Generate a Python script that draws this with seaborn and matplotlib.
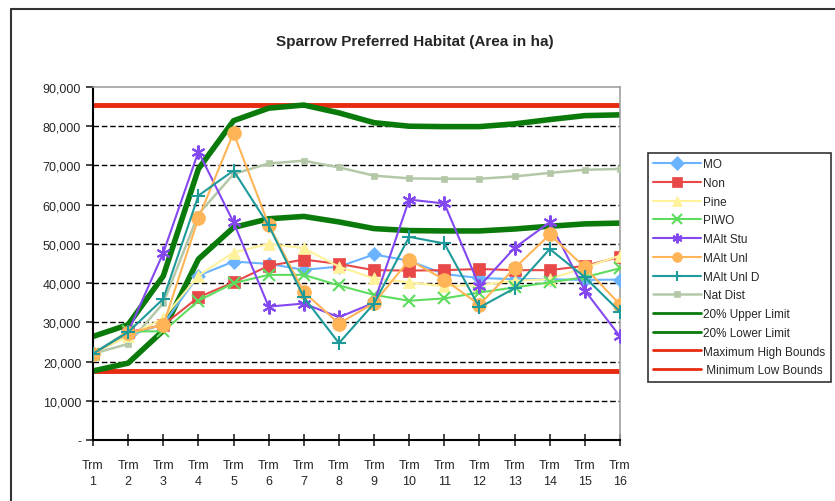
import numpy as np
import pandas as pd
import matplotlib
matplotlib.use("Agg")
import matplotlib.pyplot as plt
from matplotlib.lines import Line2D
import seaborn as sns

sns.set_style("white")
plt.rcParams['font.family'] = ['Liberation Sans', 'DejaVu Sans']

# treatments
terms = list(range(1, 17))
tick_labels = ["Trm\n%d" % t for t in terms]

mo = [22000, 26600, 29500, 41900, 45500, 44900, 43400, 44200, 47300, 45700, 42300, 41300, 41000, 41000, 40800, 40900]
non = [22000, 27500, 29300, 36400, 40200, 44400, 46000, 44900, 43300, 43200, 43300, 43600, 43300, 43300, 44400, 46700]
pine = [22000, 26500, 31000, 41900, 47800, 50000, 48900, 44200, 41200, 40200, 39200, 39500, 40600, 41000, 44000, 47000]
piwo = [22000, 27700, 27700, 35500, 40000, 42100, 42100, 39400, 37000, 35500, 36100, 37600, 38900, 40200, 41500, 43800]
malt_stu = [22000, 27500, 47700, 73500, 55500, 34000, 34800, 31300, 35000, 61300, 60300, 39200, 49000, 55500, 38100, 26400]
malt_unl = [22000, 27300, 29300, 56500, 78300, 54900, 37700, 29700, 34900, 45900, 40900, 34500, 43800, 52400, 44000, 34500]
malt_unl_d = [22000, 27500, 36000, 62300, 68700, 54700, 36400, 24700, 34800, 51800, 50100, 33800, 38700, 48700, 41500, 32700]
nat_dist = [22000, 24500, 34900, 57600, 67800, 70500, 71200, 69500, 67400, 66700, 66600, 66600, 67200, 68100, 68900, 69100]
upper_20 = [26400, 29400, 41800, 69100, 81400, 84600, 85400, 83400, 80900, 80000, 79900, 79900, 80600, 81700, 82700, 82900]
lower_20 = [17600, 19600, 27900, 46100, 54200, 56400, 57000, 55600, 53900, 53400, 53300, 53300, 53800, 54500, 55100, 55300]
max_high = [85500] * 16
min_low = [17500] * 16

series = [
    ("MO", mo, "#6AB4FF", "D", 7, 1.5),
    ("Non", non, "#E84848", "s", 8, 1.5),
    ("Pine", pine, "#FFF29A", "^", 9, 1.5),
    ("PIWO", piwo, "#5EDC5E", "x", 8, 1.5),
    ("MAlt Stu", malt_stu, "#8448F0", (6, 2, 0), 10, 1.5),
    ("MAlt Unl", malt_unl, "#FFB457", "o", 10, 1.5),
    ("MAlt Unl D", malt_unl_d, "#1E9A9A", "+", 10, 1.5),
    ("Nat Dist", nat_dist, "#B4C8A8", "s", 4, 1.8),
    ("20% Upper Limit", upper_20, "#0A7A0A", None, 0, 4.0),
    ("20% Lower Limit", lower_20, "#0A7A0A", None, 0, 4.0),
    ("Maximum High Bounds", max_high, "#E82A10", None, 0, 3.5),
    (" Minimum Low Bounds", min_low, "#E82A10", None, 0, 3.5),
]

fig = plt.figure(figsize=(8.35, 5.02), dpi=100)
ax = fig.add_axes([93 / 835, 61 / 502, 527 / 835, 353 / 502])

# dashed gridlines
for v in range(10000, 90000, 10000):
    ax.axhline(v, color="black", linestyle=(0, (4, 2)), linewidth=1.0, zorder=1)

order_draw = [10, 11, 8, 9, 7, 0, 1, 2, 3, 4, 5, 6]
lines = {}
for i in order_draw:
    name, vals, col, mk, ms, lw = series[i]
    df = pd.DataFrame({"term": terms, "value": vals})
    sns.lineplot(data=df, x="term", y="value", ax=ax, color=col, linewidth=lw,
                 marker=mk, markersize=ms, markeredgecolor=col,
                 markeredgewidth=1.5 if mk in ("x", "+", (6, 2, 0)) else 0.5,
                 zorder=3 if mk else 2, legend=False)
    lines[name] = ax.lines[-1]

ax.set_xlim(1, 16)
ax.set_ylim(0, 90000)
ax.set_xticks(terms)
ax.set_xticklabels(tick_labels, fontsize=9, linespacing=1.45)
ax.set_yticks(range(0, 100000, 10000))
ax.set_yticklabels(["-"] + ["{:,}".format(v) for v in range(10000, 100000, 10000)], fontsize=9)
ax.set_xlabel("")
ax.set_ylabel("")
ax.tick_params(axis="x", direction="inout", length=8, width=1.2, pad=10, bottom=True)
ax.tick_params(axis="y", direction="out", length=5, width=1.2, left=True)
for s in ["left", "bottom"]:
    ax.spines[s].set_color("black")
    ax.spines[s].set_linewidth(1.5)
for s in ["top", "right"]:
    ax.spines[s].set_color("#A0A0A0")
    ax.spines[s].set_linewidth(1.2)

fig.text(415 / 835, 1 - 42 / 502, "Sparrow Preferred Habitat (Area in ha)",
         ha="center", va="center", fontsize=11, fontweight="bold")

names = [s[0] for s in series]
leg_handles = []
for name in names:
    h = lines[name]
    leg_handles.append(Line2D([], [], color=h.get_color(), marker=h.get_marker(),
                              markersize=min(h.get_markersize(), 7), linewidth=min(h.get_linewidth(), 2),
                              markeredgecolor=h.get_color(), markeredgewidth=h.get_markeredgewidth()))
leg = fig.legend(leg_handles, names, loc="upper left", bbox_to_anchor=(648 / 835, 1 - 154 / 502),
                 fontsize=8.5, frameon=True, fancybox=False, handlelength=4.0,
                 borderpad=0.45, labelspacing=0.57, handletextpad=0.25, borderaxespad=0)
leg.get_frame().set_edgecolor("black")
leg.get_frame().set_linewidth(1.2)

# outer frame (top and left edges visible)
fig.add_artist(Line2D([11 / 835, 1], [1 - 10 / 502, 1 - 10 / 502], transform=fig.transFigure,
                      color="#333333", linewidth=1.5))
fig.add_artist(Line2D([11 / 835, 11 / 835], [0, 1 - 10 / 502], transform=fig.transFigure,
                      color="#333333", linewidth=1.5))

fig.savefig("out.png", dpi=100)
